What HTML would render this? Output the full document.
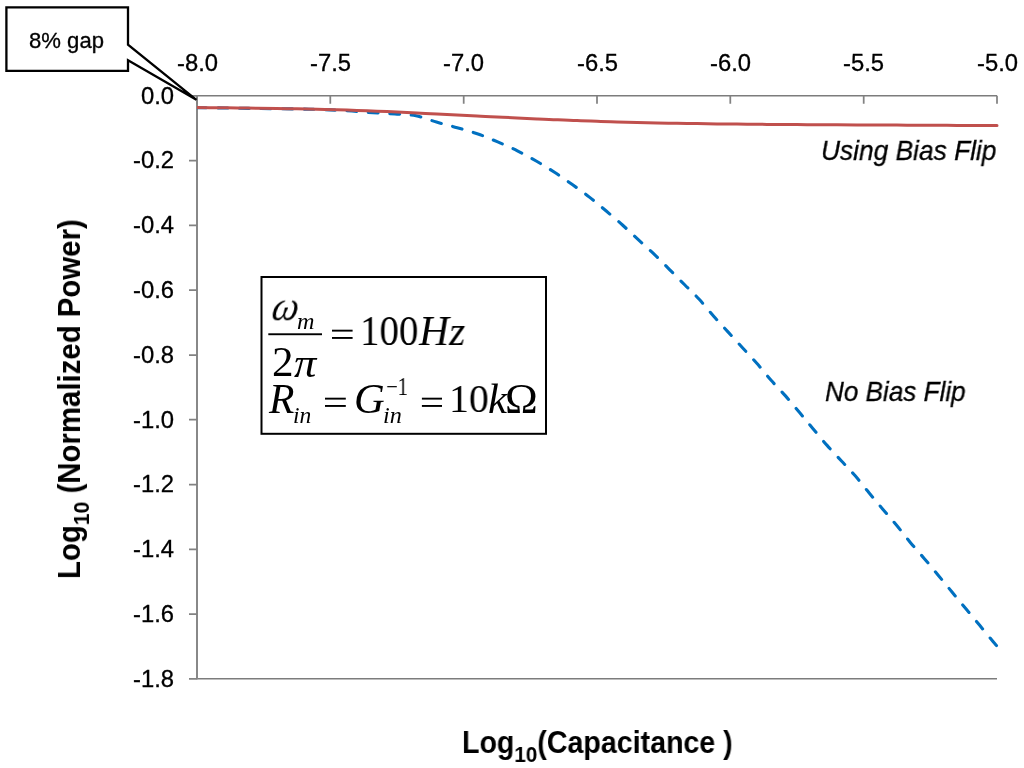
<!DOCTYPE html>
<html><head><meta charset="utf-8"><style>
html,body{margin:0;padding:0;background:#fff;width:1024px;height:768px;overflow:hidden;position:relative}
svg{position:absolute;left:0;top:0}
div{color:#000;will-change:transform}
.ts{-webkit-text-stroke:0.3px #000}
</style></head><body>
<svg width="1024" height="768" viewBox="0 0 1024 768">
<path d="M197.0,95.7H997.0M197.0,678.7H997.0" fill="none" stroke="#7c7c7c" stroke-width="1.5"/>
<path d="M197.0,95.2V679.3" fill="none" stroke="#888888" stroke-width="2"/>
<path d="M197.0,95.8v8M330.3,95.8v8M463.7,95.8v8M597.0,95.8v8M730.3,95.8v8M863.7,95.8v8M997.0,95.8v8M189.0,95.8h8M189.0,160.6h8M189.0,225.4h8M189.0,290.2h8M189.0,355.0h8M189.0,419.7h8M189.0,484.5h8M189.0,549.3h8M189.0,614.1h8M189.0,678.9h8" fill="none" stroke="#828282" stroke-width="1.75"/>
<defs><clipPath id="pc"><rect x="197" y="90" width="827" height="600"/></clipPath></defs><g clip-path="url(#pc)">
<path d="M197.0,107.7 C201.8,107.7 215.5,107.9 226.0,108.0 C236.5,108.2 246.2,108.3 260.0,108.5 C273.8,108.7 297.3,108.9 309.0,109.2 C320.7,109.4 322.8,109.6 330.0,109.9 C337.2,110.2 344.8,110.5 352.0,111.0 C359.2,111.5 365.8,112.2 373.0,112.7 C380.2,113.2 387.8,113.4 395.0,113.9 C402.2,114.4 409.1,114.4 416.0,115.8 C422.9,117.2 429.6,120.1 436.5,122.1 C443.4,124.1 450.3,125.7 457.2,127.7 C464.1,129.7 471.2,131.6 478.0,134.0 C484.8,136.4 491.1,139.1 497.7,141.9 C504.3,144.7 511.0,147.6 517.4,150.8 C523.8,154.0 530.0,157.4 536.2,161.0 C542.4,164.6 548.5,168.4 554.5,172.3 C560.5,176.2 566.5,180.5 572.3,184.6 C578.1,188.7 583.8,192.7 589.4,197.1 C595.0,201.5 600.5,206.2 606.0,210.8 C611.5,215.5 617.2,220.2 622.5,225.0 C627.8,229.8 632.8,234.6 638.0,239.4 C643.2,244.2 648.4,248.7 653.6,253.7 C658.8,258.7 664.1,264.1 669.3,269.3 C674.5,274.5 679.9,280.0 684.9,285.0 C689.9,290.0 694.4,294.1 699.2,299.3 C704.0,304.6 709.1,311.0 713.9,316.5 C718.7,322.0 723.4,326.9 728.2,332.1 C733.0,337.3 737.7,342.5 742.5,347.7 C747.3,352.9 752.0,357.9 756.8,363.3 C761.6,368.7 766.3,374.9 771.1,380.3 C775.9,385.7 780.7,390.5 785.5,395.9 C790.3,401.3 795.2,407.4 799.8,412.8 C804.3,418.2 808.2,423.0 812.8,428.4 C817.3,433.8 822.3,440.0 827.1,445.4 C831.9,450.8 836.9,456.0 841.5,461.0 C846.1,466.0 850.4,470.3 855.0,475.6 C859.6,480.9 864.5,487.4 869.2,493.0 C873.9,498.6 878.4,504.0 883.0,509.4 C887.6,514.8 892.2,520.0 896.8,525.5 C901.3,531.0 905.7,536.8 910.3,542.4 C914.9,548.0 919.9,553.4 924.6,558.9 C929.3,564.4 933.8,570.0 938.4,575.5 C943.0,581.0 947.5,586.5 952.0,592.0 C956.5,597.5 961.1,603.0 965.7,608.5 C970.3,614.0 975.0,619.6 979.5,625.1 C984.0,630.6 990.1,638.0 993.0,641.5 C995.9,645.0 996.2,645.2 996.8,646.0" fill="none" stroke="#0070C0" stroke-width="3.1" stroke-linecap="round" stroke-dasharray="9.8 11.68" stroke-dashoffset="0.4"/>
<path d="M197.0,107.6 C200.3,107.6 210.3,107.7 217.0,107.7 C223.7,107.8 230.3,107.8 237.0,107.9 C243.7,108.0 250.3,108.1 257.0,108.2 C263.7,108.2 270.3,108.3 277.0,108.5 C283.7,108.6 290.3,108.7 297.0,108.8 C303.7,109.0 310.3,109.1 317.0,109.3 C323.7,109.4 330.3,109.6 337.0,109.8 C343.7,110.0 350.3,110.2 357.0,110.4 C363.7,110.7 370.3,110.9 377.0,111.2 C383.7,111.5 390.3,111.7 397.0,112.0 C403.7,112.3 410.3,112.6 417.0,112.9 C423.7,113.3 430.3,113.6 437.0,113.9 C443.7,114.2 450.3,114.6 457.0,114.9 C463.7,115.2 470.3,115.6 477.0,115.9 C483.7,116.3 490.3,116.6 497.0,116.9 C503.7,117.3 510.3,117.6 517.0,117.9 C523.7,118.2 530.3,118.6 537.0,118.9 C543.7,119.2 550.3,119.5 557.0,119.7 C563.7,120.0 570.3,120.3 577.0,120.5 C583.7,120.8 590.3,121.0 597.0,121.2 C603.7,121.5 610.3,121.7 617.0,121.9 C623.7,122.1 630.3,122.2 637.0,122.4 C643.7,122.6 650.3,122.7 657.0,122.9 C663.7,123.0 670.3,123.1 677.0,123.3 C683.7,123.4 690.3,123.5 697.0,123.6 C703.7,123.7 710.3,123.8 717.0,123.9 C723.7,124.0 730.3,124.0 737.0,124.1 C743.7,124.2 750.3,124.2 757.0,124.3 C763.7,124.4 770.3,124.4 777.0,124.5 C783.7,124.5 790.3,124.6 797.0,124.6 C803.7,124.6 810.3,124.7 817.0,124.7 C823.7,124.7 830.3,124.8 837.0,124.8 C843.7,124.8 850.3,124.8 857.0,124.9 C863.7,124.9 870.3,125.0 877.0,125.0 C883.7,125.0 890.3,125.1 897.0,125.1 C903.7,125.1 910.3,125.2 917.0,125.2 C923.7,125.2 930.3,125.3 937.0,125.3 C943.7,125.3 950.3,125.4 957.0,125.4 C963.7,125.4 970.3,125.4 977.0,125.5 C983.7,125.5 993.7,125.5 997.0,125.5" fill="none" stroke="#C0504D" stroke-width="3" stroke-linecap="round"/>
</g>
<rect x="261.5" y="277" width="284.5" height="156.8" fill="#fff" stroke="#000" stroke-width="2"/>
<rect x="268.3" y="333.3" width="53.7" height="1.9" fill="#000"/>
<rect x="332" y="329.7" width="20.6" height="1.9" fill="#000"/>
<rect x="332" y="337.0" width="20.6" height="1.9" fill="#000"/>
<rect x="325" y="397.7" width="20.8" height="1.9" fill="#000"/>
<rect x="325" y="405.0" width="20.8" height="1.9" fill="#000"/>
<rect x="421.9" y="397.7" width="20.1" height="1.9" fill="#000"/>
<rect x="421.9" y="405.0" width="20.1" height="1.9" fill="#000"/>
<path d="M6.4,7.4 H128 V44.6 L196.4,99.8 L128,60.2 V70.9 H6.4 Z" fill="#fff" stroke="#000" stroke-width="2.3" stroke-linejoin="miter" stroke-miterlimit="4"/>
</svg>
<div id="cap" class="ts" style="position:absolute;left:29.43px;top:29.78px;font-size:22.113px;font-family:'Liberation Sans',sans-serif;white-space:nowrap;line-height:1;transform-origin:0 0;transform:scaleX(0.9989);">8% gap</div>
<div id="lab1" class="ts" style="position:absolute;left:821.33px;top:137.04px;font-size:27.877px;font-family:'Liberation Sans',sans-serif;font-style:italic;white-space:nowrap;line-height:1;transform-origin:0 0;transform:scaleX(0.9442);">Using Bias Flip</div>
<div id="lab2" class="ts" style="position:absolute;left:825.42px;top:378.37px;font-size:27.681px;font-family:'Liberation Sans',sans-serif;font-style:italic;white-space:nowrap;line-height:1;transform-origin:0 0;transform:scaleX(0.9424);">No Bias Flip</div>
<div id="xt" style="position:absolute;left:461.89px;top:726.81px;font-size:30.580px;font-family:'Liberation Sans',sans-serif;font-weight:bold;white-space:nowrap;line-height:1;transform-origin:0 0;transform:scaleX(0.9351);">Log<span style="font-size:0.72em;position:relative;top:0.39em">10</span>(Capacitance )</div>
<div id="yt" style="position:absolute;left:54.11px;top:579.17px;font-size:31.159px;font-family:'Liberation Sans',sans-serif;font-weight:bold;white-space:nowrap;line-height:1;transform-origin:0 0;transform:rotate(-90deg) scaleX(0.9433);">Log<span style="font-size:0.72em;position:relative;top:0.39em">10</span> (Normalized Power)</div>
<div id="om" style="position:absolute;left:277.23px;top:285.16px;font-size:42.100px;font-family:'Liberation Serif',serif;font-style:italic;white-space:nowrap;line-height:1;transform-origin:0 0;transform:scaleX(0.8971) skewX(-12deg);">&#969;</div>
<div id="m" style="position:absolute;left:297.28px;top:309.76px;font-size:23.527px;font-family:'Liberation Serif',serif;font-style:italic;white-space:nowrap;line-height:1;transform-origin:0 0;transform:scaleX(1.0294);">m</div>
<div id="two" style="position:absolute;left:271.80px;top:341.72px;font-size:41.537px;font-family:'Liberation Serif',serif;white-space:nowrap;line-height:1;transform-origin:0 0;transform:scaleX(1.0394);">2</div>
<div id="pi" style="position:absolute;left:293.62px;top:342.61px;font-size:41.064px;font-family:'Liberation Serif',serif;font-style:italic;white-space:nowrap;line-height:1;transform-origin:0 0;transform:scaleX(1.0841);">&#960;</div>
<div id="h100" style="position:absolute;left:359.57px;top:310.55px;font-size:41.493px;font-family:'Liberation Serif',serif;white-space:nowrap;line-height:1;transform-origin:0 0;transform:scaleX(0.9386);">100</div>
<div id="hz" style="position:absolute;left:419.18px;top:310.01px;font-size:42.144px;font-family:'Liberation Serif',serif;font-style:italic;white-space:nowrap;line-height:1;transform-origin:0 0;transform:scaleX(0.9864);">Hz</div>
<div id="R" style="position:absolute;left:269.35px;top:378.68px;font-size:41.228px;font-family:'Liberation Serif',serif;font-style:italic;white-space:nowrap;line-height:1;transform-origin:0 0;transform:scaleX(1.0087);">R</div>
<div id="in1" style="position:absolute;left:292.65px;top:404.12px;font-size:23.208px;font-family:'Liberation Serif',serif;font-style:italic;white-space:nowrap;line-height:1;transform-origin:0 0;transform:scaleX(1.0124);">in</div>
<div id="G" style="position:absolute;left:353.85px;top:378.29px;font-size:42.272px;font-family:'Liberation Serif',serif;font-style:italic;white-space:nowrap;line-height:1;transform-origin:0 0;transform:scaleX(1.0064);">G</div>
<div id="m1" style="position:absolute;left:385.77px;top:374.98px;font-size:24.848px;font-family:'Liberation Serif',serif;white-space:nowrap;line-height:1;transform-origin:0 0;transform:scaleX(0.8302);">&#8722;1</div>
<div id="in2" style="position:absolute;left:382.51px;top:403.92px;font-size:23.208px;font-family:'Liberation Serif',serif;font-style:italic;white-space:nowrap;line-height:1;transform-origin:0 0;transform:scaleX(1.0443);">in</div>
<div id="ten" style="position:absolute;left:448.81px;top:379.05px;font-size:40.312px;font-family:'Liberation Serif',serif;white-space:nowrap;line-height:1;transform-origin:0 0;transform:scaleX(0.9852);">10</div>
<div id="k" style="position:absolute;left:487.82px;top:379.14px;font-size:41.159px;font-family:'Liberation Serif',serif;font-style:italic;white-space:nowrap;line-height:1;transform-origin:0 0;transform:scaleX(1.0404);">k</div>
<div id="Om" style="position:absolute;left:504.60px;top:377.96px;font-size:42.452px;font-family:'Liberation Serif',serif;white-space:nowrap;line-height:1;transform-origin:0 0;transform:scaleX(1.0377);">&#937;</div>
<div id="yl0" class="ts" style="position:absolute;left:140.86px;top:84.59px;font-size:23.380px;font-family:'Liberation Sans',sans-serif;white-space:nowrap;line-height:1;transform-origin:0 0;transform:scaleX(1.0186);">0.0</div>
<div id="yl1" class="ts" style="position:absolute;left:133.20px;top:149.38px;font-size:23.380px;font-family:'Liberation Sans',sans-serif;white-space:nowrap;line-height:1;transform-origin:0 0;transform:scaleX(1.0186);">-0.2</div>
<div id="yl2" class="ts" style="position:absolute;left:132.70px;top:214.16px;font-size:23.380px;font-family:'Liberation Sans',sans-serif;white-space:nowrap;line-height:1;transform-origin:0 0;transform:scaleX(1.0186);">-0.4</div>
<div id="yl3" class="ts" style="position:absolute;left:133.06px;top:278.95px;font-size:23.380px;font-family:'Liberation Sans',sans-serif;white-space:nowrap;line-height:1;transform-origin:0 0;transform:scaleX(1.0186);">-0.6</div>
<div id="yl4" class="ts" style="position:absolute;left:133.04px;top:343.74px;font-size:23.380px;font-family:'Liberation Sans',sans-serif;white-space:nowrap;line-height:1;transform-origin:0 0;transform:scaleX(1.0186);">-0.8</div>
<div id="yl5" class="ts" style="position:absolute;left:132.94px;top:408.53px;font-size:23.380px;font-family:'Liberation Sans',sans-serif;white-space:nowrap;line-height:1;transform-origin:0 0;transform:scaleX(1.0186);">-1.0</div>
<div id="yl6" class="ts" style="position:absolute;left:133.20px;top:473.32px;font-size:23.380px;font-family:'Liberation Sans',sans-serif;white-space:nowrap;line-height:1;transform-origin:0 0;transform:scaleX(1.0186);">-1.2</div>
<div id="yl7" class="ts" style="position:absolute;left:132.70px;top:538.11px;font-size:23.380px;font-family:'Liberation Sans',sans-serif;white-space:nowrap;line-height:1;transform-origin:0 0;transform:scaleX(1.0186);">-1.4</div>
<div id="yl8" class="ts" style="position:absolute;left:133.06px;top:602.90px;font-size:23.380px;font-family:'Liberation Sans',sans-serif;white-space:nowrap;line-height:1;transform-origin:0 0;transform:scaleX(1.0186);">-1.6</div>
<div id="yl9" class="ts" style="position:absolute;left:133.04px;top:667.69px;font-size:23.380px;font-family:'Liberation Sans',sans-serif;white-space:nowrap;line-height:1;transform-origin:0 0;transform:scaleX(1.0186);">-1.8</div>
<div id="xl0" class="ts" style="position:absolute;left:176.62px;top:51.59px;font-size:23.380px;font-family:'Liberation Sans',sans-serif;white-space:nowrap;line-height:1;transform-origin:0 0;transform:scaleX(1.0186);">-8.0</div>
<div id="xl1" class="ts" style="position:absolute;left:309.98px;top:51.59px;font-size:23.380px;font-family:'Liberation Sans',sans-serif;white-space:nowrap;line-height:1;transform-origin:0 0;transform:scaleX(1.0186);">-7.5</div>
<div id="xl2" class="ts" style="position:absolute;left:443.28px;top:51.59px;font-size:23.380px;font-family:'Liberation Sans',sans-serif;white-space:nowrap;line-height:1;transform-origin:0 0;transform:scaleX(1.0186);">-7.0</div>
<div id="xl3" class="ts" style="position:absolute;left:576.65px;top:51.59px;font-size:23.380px;font-family:'Liberation Sans',sans-serif;white-space:nowrap;line-height:1;transform-origin:0 0;transform:scaleX(1.0186);">-6.5</div>
<div id="xl4" class="ts" style="position:absolute;left:709.95px;top:51.59px;font-size:23.380px;font-family:'Liberation Sans',sans-serif;white-space:nowrap;line-height:1;transform-origin:0 0;transform:scaleX(1.0186);">-6.0</div>
<div id="xl5" class="ts" style="position:absolute;left:843.32px;top:51.59px;font-size:23.380px;font-family:'Liberation Sans',sans-serif;white-space:nowrap;line-height:1;transform-origin:0 0;transform:scaleX(1.0186);">-5.5</div>
<div id="xl6" class="ts" style="position:absolute;left:976.62px;top:51.59px;font-size:23.380px;font-family:'Liberation Sans',sans-serif;white-space:nowrap;line-height:1;transform-origin:0 0;transform:scaleX(1.0186);">-5.0</div>
</body></html>
